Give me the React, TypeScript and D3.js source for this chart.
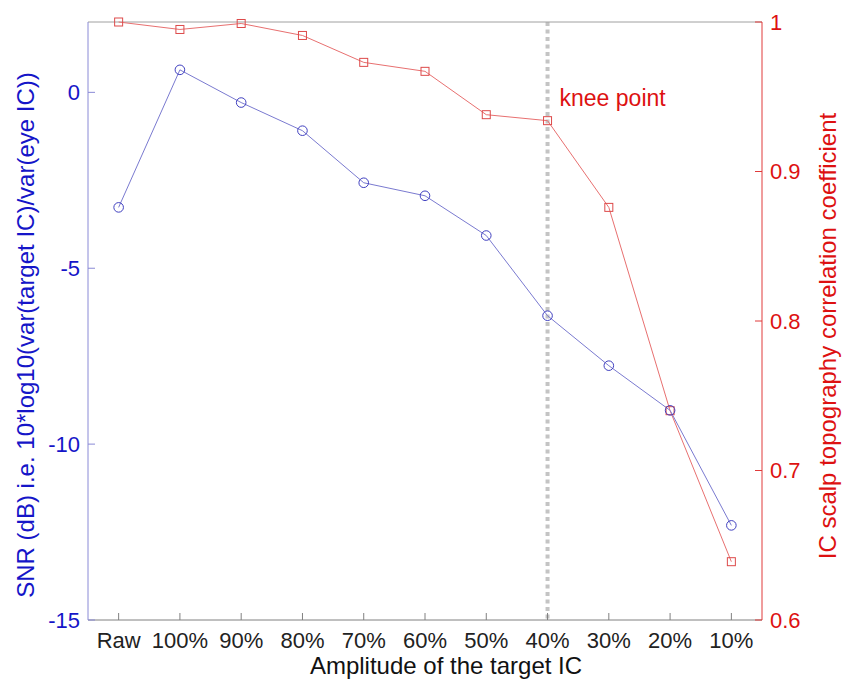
import React from 'react';
import * as d3 from 'd3';

const categories = ['Raw', '100%', '90%', '80%', '70%', '60%', '50%', '40%', '30%', '20%', '10%'];
const snrValues = [-3.27, 0.64, -0.29, -1.09, -2.57, -2.94, -4.07, -6.35, -7.77, -9.04, -12.31];
const corrValues = [1.0, 0.995, 0.999, 0.991, 0.973, 0.967, 0.938, 0.934, 0.876, 0.74, 0.639];
const leftTicks = [-15, -10, -5, 0];
const rightTicks = [0.6, 0.7, 0.8, 0.9, 1];
const kneeCategory = '40%';

const W = 844;
const H = 689;
const margin = { top: 22, right: 82, bottom: 69, left: 88 };
const font = '"Liberation Sans", Arial, sans-serif';

export default function App() {
  const x0 = margin.left;
  const x1 = W - margin.right;
  const y0 = margin.top;
  const y1 = H - margin.bottom;

  const x = d3.scalePoint<string>().domain(categories).range([x0, x1]).padding(0.5);
  const yL = d3.scaleLinear().domain([-15, 2]).range([y1, y0]);
  const yR = d3.scaleLinear().domain([0.6, 1]).range([y1, y0]);

  const snrLine = d3.line<number>()
    .x((_, i) => x(categories[i])!)
    .y(d => yL(d));
  const corrLine = d3.line<number>()
    .x((_, i) => x(categories[i])!)
    .y(d => yR(d));

  const tick = 7;
  const kneeX = x(kneeCategory)!;

  return (
    <svg width={W} height={H} style={{ position: 'absolute', left: 0, top: 0, background: '#fff' }} fontFamily={font}>
      <rect x={0} y={0} width={W} height={H} fill="#fff" />

      {/* knee line */}
      <line x1={kneeX} x2={kneeX} y1={y0} y2={y1} stroke="#c4c4c4" strokeWidth={4} strokeDasharray="4 3.5" />
      <text x={kneeX + 12} y={106} fontSize={23} fill="#dd1111">knee point</text>

      {/* frame */}
      <line x1={x0} x2={x1} y1={y0} y2={y0} stroke="#a0a0a0" strokeWidth={1} />
      <line x1={x0} x2={x1} y1={y1} y2={y1} stroke="#808080" strokeWidth={1} />
      <line x1={x0} x2={x0} y1={y0} y2={y1} stroke="#8a8ad6" strokeWidth={1} />
      <line x1={x1} x2={x1} y1={y0} y2={y1} stroke="#e03a3a" strokeWidth={1} />

      {/* bottom ticks */}
      {categories.map(c => (
        <g key={c}>
          <line x1={x(c)} x2={x(c)} y1={y1} y2={y1 - tick} stroke="#808080" />
          <text x={x(c)} y={y1 + 28} fontSize={22} fill="#222" textAnchor="middle">{c}</text>
        </g>
      ))}

      {/* left ticks */}
      {leftTicks.map(t => (
        <g key={t}>
          <line x1={x0} x2={x0 + tick} y1={yL(t)} y2={yL(t)} stroke="#8a8ad6" />
          <text x={x0 - 8} y={yL(t)} dy="0.36em" fontSize={22} fill="#1515c8" textAnchor="end">{t}</text>
        </g>
      ))}

      {/* right ticks */}
      {rightTicks.map(t => (
        <g key={t}>
          <line x1={x1} x2={x1 - tick} y1={yR(t)} y2={yR(t)} stroke="#e03a3a" />
          <text x={x1 + 8} y={yR(t)} dy="0.36em" fontSize={22} fill="#dd1111">{d3.format('')(t)}</text>
        </g>
      ))}

      {/* series */}
      <path d={corrLine(corrValues) ?? ''} fill="none" stroke="#e87070" strokeWidth={1} />
      {corrValues.map((v, i) => (
        <rect key={i} x={x(categories[i])! - 4} y={yR(v) - 4} width={8} height={8} fill="none" stroke="#dd4a4a" strokeWidth={1} />
      ))}
      <path d={snrLine(snrValues) ?? ''} fill="none" stroke="#7a7ad0" strokeWidth={1} />
      {snrValues.map((v, i) => (
        <circle key={i} cx={x(categories[i])} cy={yL(v)} r={4.8} fill="none" stroke="#4040c0" strokeWidth={1} />
      ))}

      {/* axis titles */}
      <text transform={`translate(34, 335) rotate(-90)`} fontSize={24} fill="#1515c8" textAnchor="middle">
        SNR (dB) i.e. 10*log10(var(target IC)/var(eye IC))
      </text>
      <text transform={`translate(836, 336) rotate(-90)`} fontSize={24} fill="#dd1111" textAnchor="middle">
        IC scalp topography correlation coefficient
      </text>
      <text x={446} y={674} fontSize={24} fill="#111" textAnchor="middle">Amplitude of the target IC</text>
    </svg>
  );
}
